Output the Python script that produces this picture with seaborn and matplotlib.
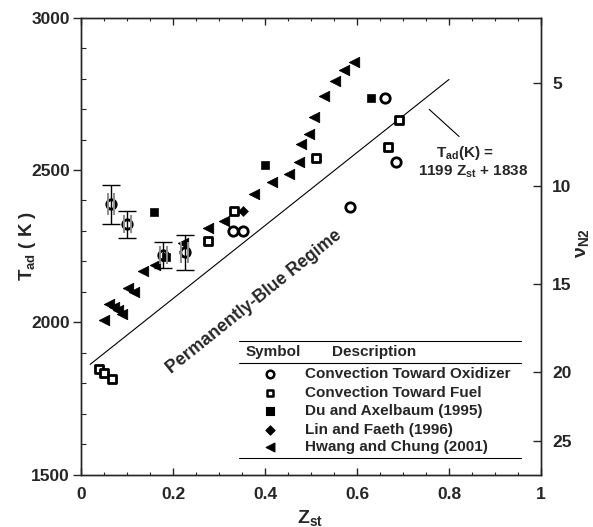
import numpy as np
import pandas as pd
import matplotlib
matplotlib.use('Agg')
import matplotlib.pyplot as plt
import seaborn as sns

sns.set_style('ticks')
plt.rcParams['font.family'] = ['Liberation Sans', 'DejaVu Sans']
plt.rcParams['font.weight'] = 'bold'
plt.rcParams['mathtext.fontset'] = 'custom'
plt.rcParams['mathtext.rm'] = 'Liberation Sans:bold'
plt.rcParams['mathtext.it'] = 'Liberation Sans:bold'
plt.rcParams['mathtext.bf'] = 'Liberation Sans:bold'

# convection toward oxidizer (with error bars)
ox_err_z = [0.065, 0.101, 0.179, 0.225]
ox_err_T = [2388, 2323, 2220, 2230]
ox_err_up = [64, 43, 45, 57]
ox_err_dn = [64, 45, 43, 58]
ox_gray = [35, 30, 30, 35]

# convection toward oxidizer (no error bars)
ox_z = [0.331, 0.352, 0.585, 0.661, 0.685]
ox_T = [2300, 2300, 2378, 2735, 2525]

# convection toward fuel
fuel_z = [0.039, 0.051, 0.068, 0.277, 0.333, 0.510, 0.667, 0.692]
fuel_T = [1846, 1835, 1813, 2266, 2366, 2540, 2577, 2665]

# Du and Axelbaum (1995)
du_z = [0.159, 0.185, 0.400, 0.630]
du_T = [2362, 2213, 2515, 2737]

# Lin and Faeth (1996)
lin_z = [0.352]
lin_T = [2365]

# Hwang and Chung (2001)
hw_z = [0.051, 0.061, 0.072, 0.081, 0.090, 0.103, 0.116, 0.134, 0.161, 0.221,
        0.277, 0.310, 0.375, 0.415, 0.453, 0.475, 0.478, 0.496, 0.507, 0.528,
        0.552, 0.572, 0.594]
hw_T = [2006, 2061, 2050, 2040, 2027, 2114, 2099, 2170, 2189, 2259,
        2310, 2334, 2422, 2460, 2487, 2527, 2587, 2617, 2675, 2744,
        2792, 2829, 2854]

# fit line
line_z = [0.02, 0.80]
line_slope = 1199
line_icpt = 1838

# right axis (nu_N2) ticks and their Tad positions
nu_ticks = [5, 10, 15, 20, 25]
nu_tick_T = [2786, 2447, 2126, 1838, 1610]

fig = plt.figure(figsize=(5.93, 5.27), dpi=100)
ax = fig.add_axes([0.1366, 0.0994, 0.7757, 0.8670])

# fit line
lz = np.array(line_z)
ax.plot(lz, line_slope * lz + line_icpt, color='black', lw=0.8, zorder=1)
ax.plot([0.757, 0.822], [2699, 2610], color='black', lw=0.8)

sns.scatterplot(x=ox_z + ox_err_z, y=ox_T + ox_err_T, marker='o', s=46,
                color='white', edgecolor='black', linewidth=2, ax=ax, zorder=2)
sns.scatterplot(x=fuel_z, y=fuel_T, marker='s', s=34,
                color='white', edgecolor='black', linewidth=2, ax=ax, zorder=2)
sns.scatterplot(x=du_z, y=du_T, marker='s', s=36, color='black',
                edgecolor='black', ax=ax, zorder=2)
sns.scatterplot(x=lin_z, y=lin_T, marker='D', s=26, color='black',
                edgecolor='black', ax=ax, zorder=2)
sns.scatterplot(x=hw_z, y=hw_T, marker='<', s=56, color='black',
                edgecolor='black', ax=ax, zorder=2)

# error bars
for dx in (-0.007, 0.007):
    ax.errorbar(np.array(ox_err_z) + dx, ox_err_T, yerr=ox_gray, fmt='none',
                ecolor='0.55', elinewidth=1.4, capsize=0, zorder=3)
ax.errorbar(ox_err_z, ox_err_T, yerr=[ox_err_dn, ox_err_up], fmt='none',
            ecolor='black', elinewidth=1, capsize=6.5, capthick=1, zorder=3)

ax.set_xlim(0, 1)
ax.set_ylim(1500, 3000)
ax.set_xticks([0, 0.2, 0.4, 0.6, 0.8, 1])
ax.set_xticklabels(['0', '0.2', '0.4', '0.6', '0.8', '1'])
ax.set_xticks(np.arange(0, 1.001, 0.05), minor=True)
ax.set_yticks([1500, 2000, 2500, 3000])
ax.set_yticks(np.arange(1500, 3001, 100), minor=True)

ax.tick_params(axis='x', which='major', direction='in', length=5, width=1,
               top=True, labelsize=12.5, pad=9)
ax.tick_params(axis='x', which='minor', direction='in', length=2.5, width=0.8, top=True)
ax.tick_params(axis='y', which='major', direction='out', length=6, width=1,
               labelsize=12.5, pad=2)
ax.tick_params(axis='y', which='minor', direction='in', length=3.5, width=0.8)
for s in ax.spines.values():
    s.set_linewidth(1)

ax.set_xlabel('Z$_{\\mathrm{st}}$', fontsize=14, fontweight='bold')
ax.set_ylabel('T$_{\\mathrm{ad}}$ ( K )', fontsize=13.5, fontweight='bold')
ax.xaxis.set_label_coords(0.498, -0.072)
ax.yaxis.set_label_coords(-0.093, 0.5)

ax2 = ax.twinx()
ax2.set_ylim(1500, 3000)
ax2.set_yticks(nu_tick_T)
ax2.set_yticklabels([str(v) for v in nu_ticks])
ax2.tick_params(axis='y', direction='in', length=6, width=1, labelsize=12.5, pad=8)
ax2.set_ylabel('ν$_{\\mathrm{N2}}$', fontsize=14, fontweight='bold')
ax2.yaxis.set_label_coords(1.072, 0.507)
for s in ax2.spines.values():
    s.set_linewidth(1)

# annotations
ax.text(0.835, 2556, 'T$_{\\mathrm{ad}}$(K) =', fontsize=11, ha='center', va='center')
ax.text(0.852, 2494, '1199 Z$_{\\mathrm{st}}$ + 1838', fontsize=11, ha='center', va='center')
ax.text(0.377, 2067, 'Permanently-Blue Regime', fontsize=12.7, rotation=38.7,
        ha='center', va='center')

# table-style legend
tr = ax.transAxes
for yy in (0.292, 0.2435, 0.036):
    ax.plot([0.344, 0.956], [yy, yy], color='black', lw=0.8, transform=tr)
ax.text(0.417, 0.269, 'Symbol', fontsize=11, ha='center', va='center', transform=tr)
ax.text(0.545, 0.269, 'Description', fontsize=11, ha='left', va='center', transform=tr)

leg_labels = ['Convection Toward Oxidizer', 'Convection Toward Fuel',
              'Du and Axelbaum (1995)', 'Lin and Faeth (1996)', 'Hwang and Chung (2001)']
leg_markers = ['o', 's', 's', 'D', '<']
leg_face = ['white', 'white', 'black', 'black', 'black']
leg_size = [30, 24, 28, 22, 40]
leg_y = [0.2195, 0.179, 0.139, 0.098, 0.060]
for lab, m, fc, sz, yy in zip(leg_labels, leg_markers, leg_face, leg_size, leg_y):
    ax.scatter([0.411], [yy], marker=m, s=sz, facecolor=fc, edgecolor='black',
               linewidth=1.8 if fc == 'white' else 0.8, transform=tr, clip_on=False)
    ax.text(0.487, yy, lab, fontsize=11, ha='left', va='center', transform=tr)

fig.savefig('out.png', dpi=100)
